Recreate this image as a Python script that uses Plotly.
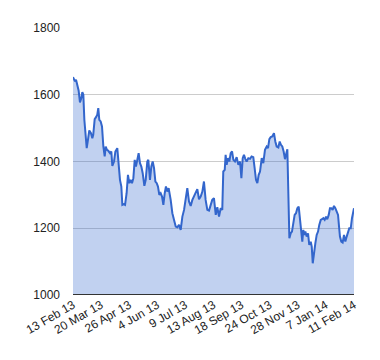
import plotly.graph_objects as go

# trading-day index (0 = 13 Feb 13, 250 = 11 Feb 14) and values
day_index = [
    0, 1.8, 2.7, 3.9, 5, 6.2, 7.4, 8.3, 9.2, 10.1, 11.3, 12.2, 13.3, 14.5, 16, 17.2, 18,
    19.3, 20.5, 21.6, 22.5, 23.4, 24.6, 25.8, 27, 28.2, 29.1, 30.2, 31.4, 32.9, 34.1, 35,
    36.5, 37.7, 39.4, 40.6, 41.8, 43, 43.9, 45.1, 46.3, 47.7, 48.9, 50.1, 51.3, 52.5, 53.7,
    54.9, 56, 57.2, 58.4, 59.6, 60.8, 62, 63.5, 64.7, 66.1, 67, 68.5, 69.7, 70.9, 72.1,
    73.3, 74.5, 75.6, 76.8, 78, 79.2, 80.4, 81.6, 82.7, 83.9, 85.1,
    86.9, 88.4, 89.9, 91.4, 92.8, 94.3, 95.8, 97.3, 98.8, 100.3, 101.7, 103.2, 104.7,
    106.2, 107.7, 109.2, 110.6, 112.1, 113.6, 115.1, 116.5, 118, 119.5, 121, 122.5, 123.9,
    125.4, 127, 128.4, 129.9, 131.4, 132.8, 133.7, 135, 135.8, 136.7, 137.9, 139.1, 140.3,
    141.5, 142.7, 144.1, 145.6, 147.1, 148.6, 149.8, 151, 152.1, 153.3, 154.5, 156, 157.5,
    158.9, 160.4, 161.6, 162.8, 164, 165.2, 166.4,
    167.9, 169.3, 170.8, 172.3, 173.5, 174.7, 175.9, 177.3, 178.8, 180, 181.2, 182.7,
    183.9, 185, 186.2, 187.4, 188.6, 189.5, 190.7, 192.5, 193.7, 194.8, 196, 197.2,
    198.4, 199.6, 200.8, 202, 203.1, 204, 204.9, 205.8, 206.7, 207.9, 209.1, 210.2, 211.5,
    212.4, 213.3, 214.4, 215.6, 216.8, 218, 219.1, 220.4, 221.5, 222.7, 223.9, 225.1,
    226.2, 227.5, 228.6, 229.8, 231, 232.2, 233.4, 234.6, 235.8, 236.7, 237.5, 238.7,
    239.9, 241.1, 242.3, 243.5, 244.7, 245.8, 247.1, 248.2, 250,
]
values = [
    1653, 1640, 1645, 1625, 1613, 1577, 1590, 1608, 1600, 1525, 1465, 1440, 1465, 1493, 1485, 1470, 1480,
    1527, 1533, 1540, 1560, 1525, 1520, 1505, 1445, 1415, 1445, 1435, 1432, 1425, 1430, 1387,
    1400, 1430, 1440, 1395, 1345, 1325, 1270, 1272, 1270, 1305, 1360, 1335, 1345, 1335, 1350,
    1405, 1385, 1405, 1425, 1395, 1385, 1365, 1327, 1345, 1400, 1405, 1345, 1385, 1400, 1380,
    1340, 1335, 1325, 1300, 1305, 1295, 1270, 1305, 1325, 1310, 1320,
    1285, 1245, 1225, 1205, 1203, 1210, 1195, 1235, 1255, 1295, 1320, 1280, 1267,
    1285, 1295, 1310, 1317, 1287, 1295, 1310, 1340, 1285, 1255, 1253, 1270, 1285,
    1290, 1240, 1263, 1235, 1260, 1255, 1370, 1375, 1420, 1390, 1410, 1400, 1425,
    1430, 1405, 1400, 1413, 1390, 1400, 1350, 1410, 1420, 1408, 1400, 1410, 1408,
    1415, 1413, 1380, 1345, 1335, 1360, 1370,
    1410, 1395, 1435, 1445, 1440, 1467, 1473, 1475, 1485, 1460, 1445, 1442,
    1460, 1450, 1445, 1430, 1407, 1420, 1437, 1170, 1185, 1190, 1210, 1240,
    1245, 1260, 1265, 1225, 1200, 1160, 1195, 1180, 1190, 1175, 1185, 1150, 1160,
    1145, 1095, 1135, 1155, 1180, 1190, 1210, 1225, 1227, 1230, 1225, 1235,
    1227, 1240, 1260, 1260, 1255, 1267, 1260, 1250, 1240, 1205, 1175, 1160,
    1157, 1180, 1160, 1175, 1187, 1200, 1200, 1230, 1260,
]

tick_positions = [0, 25, 50, 75, 100, 125, 150, 175, 200, 225, 250]
tick_labels = ["13 Feb 13", "20 Mar 13", "26 Apr 13", "4 Jun 13", "9 Jul 13", "13 Aug 13",
               "18 Sep 13", "24 Oct 13", "28 Nov 13", "7 Jan 14", "11 Feb 14"]
y_ticks = [1000, 1200, 1400, 1600, 1800]

fig = go.Figure(go.Scatter(
    x=day_index, y=values, mode="lines", fill="tozeroy",
    line=dict(color="#3366cc", width=2),
    fillcolor="rgba(51,102,204,0.3)", hoverinfo="skip",
))

fig.update_layout(
    width=380, height=360,
    margin=dict(l=65, r=34, t=20, b=73),
    paper_bgcolor="white", plot_bgcolor="white",
    font=dict(family="Arial, Liberation Sans, sans-serif", size=12, color="#222222"),
    showlegend=False,
    xaxis=dict(range=[0, 250], tickvals=tick_positions, ticktext=tick_labels,
               tickangle=-30, showgrid=False, zeroline=False, showline=False,
               ticks="", fixedrange=True),
    yaxis=dict(range=[1000, 1800], tickvals=y_ticks, showgrid=True, gridcolor="#cccccc",
               gridwidth=1, zeroline=False, showline=False, ticks="",
               ticklabelstandoff=12, fixedrange=True),
)
fig.add_shape(type="line", xref="paper", yref="y", x0=0, x1=1, y0=1000, y1=1000,
              line=dict(color="#333333", width=2))

fig.write_html("out.html", config={"displayModeBar": False})
